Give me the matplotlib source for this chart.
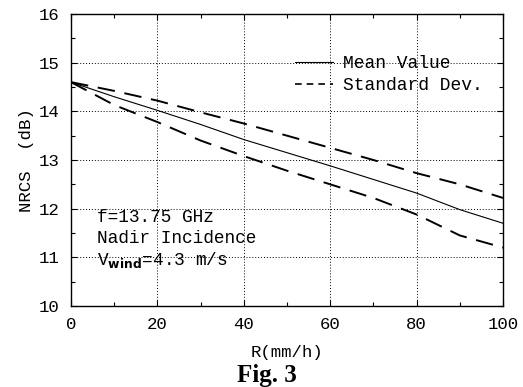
import numpy as np
import matplotlib

matplotlib.use("Agg")
import matplotlib.pyplot as plt
from matplotlib.ticker import MultipleLocator

# Rain rate (mm/h) and NRCS (dB)
rain_rate = [0, 10, 20, 30, 40, 50, 60, 70, 80, 90, 100]
nrcs_mean = [14.6, 14.3, 14.02, 13.73, 13.42, 13.15, 12.88, 12.6, 12.32, 11.98, 11.7]
nrcs_upper = [14.6, 14.42, 14.22, 13.98, 13.75, 13.5, 13.25, 13.0, 12.73, 12.5, 12.22]
nrcs_lower = [14.6, 14.13, 13.78, 13.4, 13.08, 12.78, 12.5, 12.22, 11.88, 11.45, 11.2]

MONO = "Liberation Mono"

fig = plt.figure(figsize=(5.23, 3.87), dpi=100)
ax = fig.add_axes([0.1358, 0.2093, 0.826, 0.7545])

ax.plot(rain_rate, nrcs_mean, color="black", lw=0.8, label="Mean Value")
ax.plot(rain_rate, nrcs_upper, color="black", lw=1.4, dashes=(9, 5), label="Standard Dev.")
ax.plot(rain_rate, nrcs_lower, color="black", lw=1.4, dashes=(9, 5))

ax.set_xlim(0, 100)
ax.set_ylim(10, 16)
ax.xaxis.set_major_locator(MultipleLocator(20))
ax.xaxis.set_minor_locator(MultipleLocator(10))
ax.yaxis.set_major_locator(MultipleLocator(1))
ax.yaxis.set_minor_locator(MultipleLocator(0.5))
ax.tick_params(which="both", direction="in", top=True, right=True, width=0.8)
ax.tick_params(which="major", length=4, pad=8)
ax.tick_params(which="minor", length=3)
ax.grid(True, which="major", color="black", ls=(0, (1, 2)), lw=0.7)
for sp in ax.spines.values():
    sp.set_linewidth(1.0)

for lbl in ax.get_xticklabels() + ax.get_yticklabels():
    lbl.set_fontfamily(MONO)
    lbl.set_fontsize(12.5)

ax.set_xlabel("R(mm/h)", fontfamily=MONO, fontsize=12.5, labelpad=9)
ax.set_ylabel("NRCS  (dB)", fontfamily=MONO, fontsize=12.5, labelpad=4)

# legend lines on the left, text on the right, no frame
h = [ax.plot([], [], color="black", lw=0.8)[0],
     ax.plot([], [], color="black", lw=1.2, dashes=(4, 3))[0]]
ax.legend(h, ["Mean Value", "Standard Dev."], loc="upper right",
          bbox_to_anchor=(0.99, 0.915), frameon=False, handlelength=2.1,
          handletextpad=0.55, labelspacing=0.3, prop={"family": MONO, "size": 13})

ax.text(6, 11.82, "f=13.75 GHz", fontfamily=MONO, fontsize=12.8, va="center")
ax.text(6, 11.38, "Nadir Incidence", fontfamily=MONO, fontsize=12.8, va="center")
ax.text(6, 10.95, r"V$_{\mathbf{wind}}$=4.3 m/s", fontfamily=MONO, fontsize=12.8, va="center")

fig.text(0.51, 0.03, "Fig. 3", ha="center", va="center",
         fontfamily="Liberation Serif", fontweight="bold", fontsize=18)

fig.savefig("out.png", dpi=100)
